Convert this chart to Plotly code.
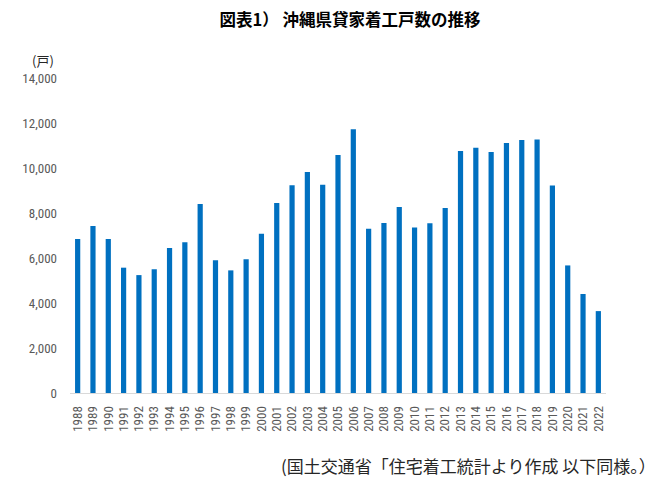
import plotly.graph_objects as go

# Data
years = [str(y) for y in range(1988, 2023)]
units = [6850, 7420, 6850, 5570, 5240, 5500, 6440, 6700, 8400, 5900,
         5450, 5940, 7080, 8440, 9230, 9820, 9260, 10580, 11720, 7300,
         7560, 8270, 7360, 7540, 8220, 10760, 10900, 10710, 11110, 11240,
         11270, 9220, 5670, 4400, 3640]

y_ticks = [0, 2000, 4000, 6000, 8000, 10000, 12000, 14000]
y_ticklabels = ["0", "2,000", "4,000", "6,000", "8,000", "10,000", "12,000", "14,000"]

title_text = "図表1） 沖縄県貸家着工戸数の推移"
unit_text = "(戸)"
source_text = "(国土交通省「住宅着工統計より作成 以下同様。）"

num_font = "Liberation Sans Narrow, Roboto Condensed, Roboto, sans-serif"
jp_font = "Noto Sans CJK JP, sans-serif"

# page body has an 8px margin, so the figure is a little smaller than the window
W, H = 649, 475

fig = go.Figure()

fig.add_trace(go.Bar(
    x=years,
    y=units,
    marker=dict(color="#0070C0", line=dict(width=0)),
    hoverinfo="x+y",
))

fig.update_layout(
    width=W,
    height=H,
    margin=dict(l=62, r=51, t=70, b=90),
    paper_bgcolor="white",
    plot_bgcolor="white",
    showlegend=False,
    bargap=0.66,
    title=dict(
        text="<b>" + title_text + "</b>",
        x=342 / W, xanchor="center",
        y=1 - 12 / H, yanchor="middle",
        font=dict(family=jp_font, size=16.5, color="#000000"),
    ),
)

fig.update_xaxes(
    type="category",
    tickmode="array",
    tickvals=years,
    ticktext=years,
    tickangle=-90,
    tickfont=dict(family=num_font, size=13, color="#595959"),
    showline=True,
    linecolor="#D9D9D9",
    linewidth=1,
    showgrid=False,
    ticks="",
    ticklabelstandoff=7,
)

fig.update_yaxes(
    range=[0, 14000],
    tickvals=y_ticks,
    ticktext=y_ticklabels,
    tickfont=dict(family=num_font, size=13, color="#595959"),
    showgrid=False,
    zeroline=False,
    showline=False,
    ticks="",
    ticklabelstandoff=12,
)

fig.add_annotation(
    text=unit_text,
    xref="paper", yref="paper",
    x=-0.0755, y=1.057,
    xanchor="left", yanchor="middle",
    showarrow=False,
    font=dict(family=jp_font, size=13, color="#262626"),
)

fig.add_annotation(
    text=source_text,
    xref="paper", yref="paper",
    x=1.097, y=-0.2286,
    xanchor="right", yanchor="middle",
    showarrow=False,
    font=dict(family=jp_font, size=17, color="#262626"),
)

fig.write_html("out.html")
